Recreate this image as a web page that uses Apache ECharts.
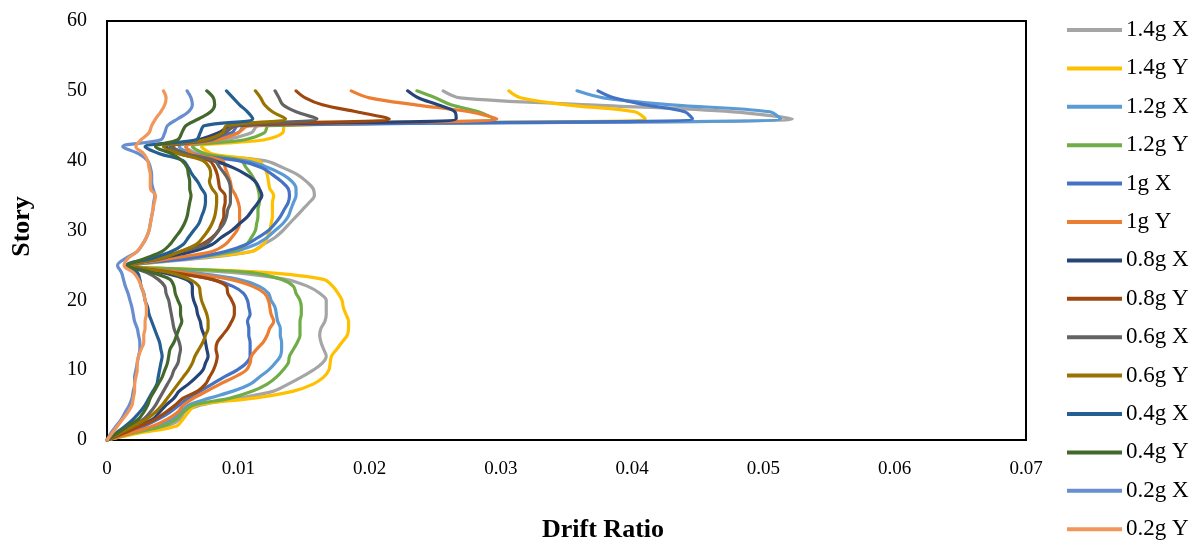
<!DOCTYPE html>
<html>
<head>
<meta charset="utf-8">
<title>Story Drift Ratio</title>
<script src="https://cdn.jsdelivr.net/npm/echarts@6/dist/echarts.min.js"></script>
<style>
  html, body { margin: 0; padding: 0; background: #fff; }
  #chart { width: 1199px; height: 541px; }
</style>
</head>
<body>
<div id="chart"></div>
<script>
// Story numbers (0 = base, 50 = roof)
const stories = [0,1,2,3,4,5,6,7,8,9,10,11,12,13,14,15,16,17,18,19,20,21,22,23,24,25,
                 26,27,28,29,30,31,32,33,34,35,36,37,38,39,40,41,42,43,44,45,46,47,48,49,50];

// Story drift ratios per load case, in units of 0.001 (story 0 .. 50)
const drift_1_4gX = [0,2.2,4.6,5.6,5.9,7.1,10.1,12.7,13.8,14.8,15.7,16.4,16.7,
  16.5,16.3,16.2,16.3,16.6,16.7,16.7,16.7,16.2,15.3,13.6,9.5,2.0,
  7.0,11.0,11.9,12.8,13.4,13.9,14.4,14.9,15.4,15.8,
  15.7,15.2,14.5,13.4,12.0,7.0,6.0,
  9.0,11.0,11.5,52.2,47.7,36.8,26.9,25.6];
const drift_1_4gY = [0,2.5,5.3,5.8,6.2,6.8,11.2,14.2,15.7,16.5,16.9,17.0,17.1,
  17.5,17.9,18.3,18.4,18.4,18.2,18.0,17.9,17.6,17.2,16.5,12.0,2.0,
  6.2,11.0,11.9,12.2,12.4,12.5,12.6,12.6,12.6,12.7,
  12.4,12.3,12.2,12.0,11.5,8.0,7.2,
  12.0,13.4,13.5,41.0,40.2,35.0,31.5,30.6];
const drift_1_2gX = [0,1.9,3.8,5.0,5.6,6.2,7.8,9.6,10.9,11.6,12.3,12.8,13.2,
  13.3,13.3,13.2,13.2,13.0,12.9,12.8,12.5,12.3,11.6,10.0,6.4,1.9,
  6.2,9.7,11.3,12.2,12.8,13.4,13.8,14.0,14.2,14.4,
  14.4,14.1,13.4,12.3,10.5,6.5,5.5,
  8.0,10.0,10.5,51.3,50.5,43.0,37.8,35.8];
const drift_1_2gY = [0,2.0,4.3,5.3,5.8,6.6,9.4,11.1,12.2,12.9,13.4,13.8,13.9,
  14.2,14.5,14.7,14.7,14.7,14.8,14.8,14.7,14.4,14.2,13.3,10.8,2.0,
  5.7,9.4,10.6,11.0,11.3,11.4,11.5,11.5,11.6,11.6,
  11.5,11.3,11.0,10.6,10.2,7.5,6.5,
  10.5,12.0,12.3,29.5,28.3,26.2,25.0,23.6];
const drift_1gX = [0,1.5,2.8,3.9,4.8,5.5,6.2,7.1,8.0,8.9,9.9,10.6,10.9,
  10.9,10.9,10.8,10.8,10.7,10.9,10.8,10.7,10.4,9.6,8.0,5.0,1.9,
  6.2,9.0,10.6,11.5,12.3,12.8,13.2,13.5,13.8,13.9,
  13.8,13.3,12.6,11.8,10.0,6.0,5.0,
  7.5,9.5,10.0,44.6,44.0,41.0,38.6,37.4];
const drift_1gY = [0,1.8,3.5,4.6,5.4,5.8,6.6,7.6,8.6,9.7,10.6,10.9,11.0,
  11.4,11.9,12.2,12.4,12.7,12.5,12.4,12.3,12.0,11.1,9.4,5.7,1.9,
  4.9,8.0,9.0,9.5,9.9,10.1,10.1,10.1,10.0,9.8,
  9.5,9.4,9.2,9.0,8.8,6.5,6.0,
  8.5,10.0,10.8,29.7,27.6,23.5,20.0,18.6];
const drift_0_8gX = [0,1.2,2.3,3.5,4.0,4.5,5.1,5.5,6.2,6.8,7.3,7.5,7.7,
  7.6,7.5,7.4,7.2,7.1,6.9,6.8,6.6,6.5,6.5,6.0,4.2,1.8,
  4.0,6.5,8.0,8.7,9.5,10.1,10.7,11.1,11.5,11.8,
  11.6,11.3,10.6,9.6,8.1,5.5,4.5,
  7.0,8.5,9.5,26.6,26.5,25.2,23.7,22.9];
const drift_0_8gY = [0,1.3,2.5,3.7,4.5,5.2,5.8,6.9,7.5,7.8,8.1,8.3,8.4,
  8.3,8.4,8.8,9.2,9.5,9.7,9.7,9.5,9.2,9.1,8.0,4.9,1.9,
  3.7,5.7,7.2,8.0,8.5,8.7,8.9,8.9,9.0,9.0,
  8.6,8.5,8.4,8.2,7.8,6.0,5.0,
  7.5,9.0,9.8,21.5,19.0,16.4,15.1,14.4];
const drift_0_6gX = [0,0.9,1.9,2.8,3.3,3.7,4.0,4.3,4.6,4.9,5.1,5.4,5.5,
  5.6,5.5,5.3,5.1,5.0,4.9,4.8,4.7,4.5,4.4,3.9,3.0,1.6,
  4.2,5.6,7.5,8.1,8.5,8.9,9.1,9.2,9.4,9.4,
  9.4,9.3,9.0,8.6,8.2,6.0,4.8,
  8.0,9.0,9.6,16.0,14.4,13.4,13.1,12.8];
const drift_0_6gY = [0,1.0,2.0,3.0,3.7,4.2,4.6,5.0,5.4,5.8,6.2,6.5,6.7,
  7.0,7.3,7.5,7.7,7.7,7.6,7.4,7.2,7.1,7.0,6.3,4.7,1.8,
  4.0,5.6,6.8,7.3,7.7,8.0,8.2,8.3,8.35,8.35,
  8.0,7.8,7.9,7.8,7.3,5.5,4.3,
  7.5,8.8,9.1,13.6,12.6,12.0,11.7,11.3];
const drift_0_4gX = [0,0.7,1.4,2.0,2.5,2.9,3.2,3.5,3.8,3.9,4.0,4.1,4.2,
  4.1,4.0,3.8,3.6,3.4,3.2,3.1,2.9,2.8,2.6,2.5,2.3,1.5,
  3.4,4.9,5.8,6.2,6.6,7.0,7.2,7.4,7.5,7.5,
  7.2,6.9,6.5,6.2,5.8,4.0,2.9,
  6.8,7.1,7.4,11.1,10.7,10.1,9.6,9.1];
const drift_0_4gY = [0,0.8,1.6,2.4,2.8,3.1,3.3,3.6,3.9,4.2,4.4,4.6,4.7,
  4.8,5.1,5.3,5.5,5.7,5.6,5.6,5.4,5.2,5.1,4.8,3.4,1.6,
  2.9,4.2,4.8,5.2,5.6,5.9,6.1,6.2,6.3,6.4,
  6.3,6.3,6.2,6.1,5.7,4.9,3.7,
  5.4,5.7,6.0,7.0,7.9,8.2,8.1,7.6];
const drift_0_2gX = [0,0.3,0.7,1.1,1.4,1.7,1.9,2.0,2.1,2.1,2.2,2.3,2.4,
  2.5,2.5,2.4,2.3,2.1,2.0,1.9,1.75,1.6,1.4,1.25,1.1,0.8,
  1.4,2.3,2.7,3.0,3.2,3.3,3.4,3.5,3.55,3.65,
  3.5,3.4,3.4,3.3,3.1,2.4,1.2,
  4.1,4.4,4.6,5.4,6.2,6.5,6.4,6.1];
const drift_0_2gY = [0,0.4,0.8,1.2,1.6,1.9,2.0,2.1,2.1,2.2,2.3,2.3,2.4,
  2.6,2.8,2.8,2.9,2.9,3.0,3.0,2.9,2.8,2.6,2.4,2.0,1.3,
  1.6,2.3,2.7,3.0,3.2,3.3,3.4,3.5,3.6,3.7,
  3.3,3.3,3.3,3.2,3.1,2.8,2.2,
  2.6,3.2,3.4,3.7,4.1,4.4,4.5,4.3];

// Load case names, in legend order
const caseNames = ['1.4g X','1.4g Y','1.2g X','1.2g Y','1g X','1g Y','0.8g X','0.8g Y',
                   '0.6g X','0.6g Y','0.4g X','0.4g Y','0.2g X','0.2g Y'];
const caseValues = [drift_1_4gX, drift_1_4gY, drift_1_2gX, drift_1_2gY, drift_1gX, drift_1gY,
                    drift_0_8gX, drift_0_8gY, drift_0_6gX, drift_0_6gY, drift_0_4gX, drift_0_4gY,
                    drift_0_2gX, drift_0_2gY];
const caseColors = ['#A5A5A5','#FFC000','#5B9BD5','#70AD47','#4472C4','#ED7D31','#264478',
                    '#9E480E','#636363','#997300','#255E91','#43682B','#698ED0','#F1975A'];

// Axis ticks
const xTicks = [0, 0.01, 0.02, 0.03, 0.04, 0.05, 0.06, 0.07];
const yTicks = [0, 10, 20, 30, 40, 50, 60];

const FONT = '"Liberation Serif", "Times New Roman", serif';

const series = caseNames.map((name, k) => ({
  name: name,
  type: 'line',
  smooth: 0.35,
  symbol: 'none',
  data: caseValues[k].map((v, i) => [v / 1000, stories[i]]),
  lineStyle: { width: 3.2, color: caseColors[k], cap: 'round', join: 'round' },
  itemStyle: { color: caseColors[k] },
  emphasis: { disabled: true }
}));

const chart = echarts.init(document.getElementById('chart'), null, { renderer: 'canvas' });
chart.setOption({
  animation: false,
  backgroundColor: '#fff',
  grid: {
    left: 107, top: 21, width: 919, height: 419,
    outerBoundsMode: 'none', containLabel: false,
    show: true, borderColor: '#000', borderWidth: 2, backgroundColor: 'transparent'
  },
  xAxis: {
    type: 'value',
    min: xTicks[0], max: xTicks[xTicks.length - 1], interval: 0.01,
    name: 'Drift Ratio', nameLocation: 'middle', nameGap: 77,
    nameTextStyle: { fontFamily: FONT, fontSize: 26, fontWeight: 'bold', color: '#000', padding: [0, 0, 0, 73] },
    axisLine: { show: true, onZero: false, lineStyle: { color: '#000', width: 2 } },
    axisTick: { show: false },
    splitLine: { show: false },
    axisLabel: {
      margin: 20, fontFamily: FONT, fontSize: 19, color: '#000',
      formatter: v => (v === 0 ? '0' : String(+v.toFixed(2)))
    }
  },
  yAxis: {
    type: 'value',
    min: yTicks[0], max: yTicks[yTicks.length - 1], interval: 10,
    name: 'Story', nameLocation: 'middle', nameGap: 72, nameRotate: 90,
    nameTextStyle: { fontFamily: FONT, fontSize: 26, fontWeight: 'bold', color: '#000', padding: [0, 0, 0, 8] },
    axisLine: { show: true, onZero: false, lineStyle: { color: '#000', width: 2 } },
    axisTick: { show: false },
    splitLine: { show: false },
    axisLabel: { margin: 20, fontFamily: FONT, fontSize: 20, color: '#000' }
  },
  legend: {
    type: 'plain',
    orient: 'vertical',
    left: 1067, top: 18.5, height: 560, padding: 0,
    itemWidth: 55, itemHeight: 4, itemGap: 15.4,
    icon: 'rect',
    selectedMode: false,
    textStyle: { fontFamily: FONT, fontSize: 23, color: '#000', lineHeight: 23, padding: [0, 0, 0, -1] },
    data: caseNames
  },
  series: series
});
</script>
</body>
</html>
